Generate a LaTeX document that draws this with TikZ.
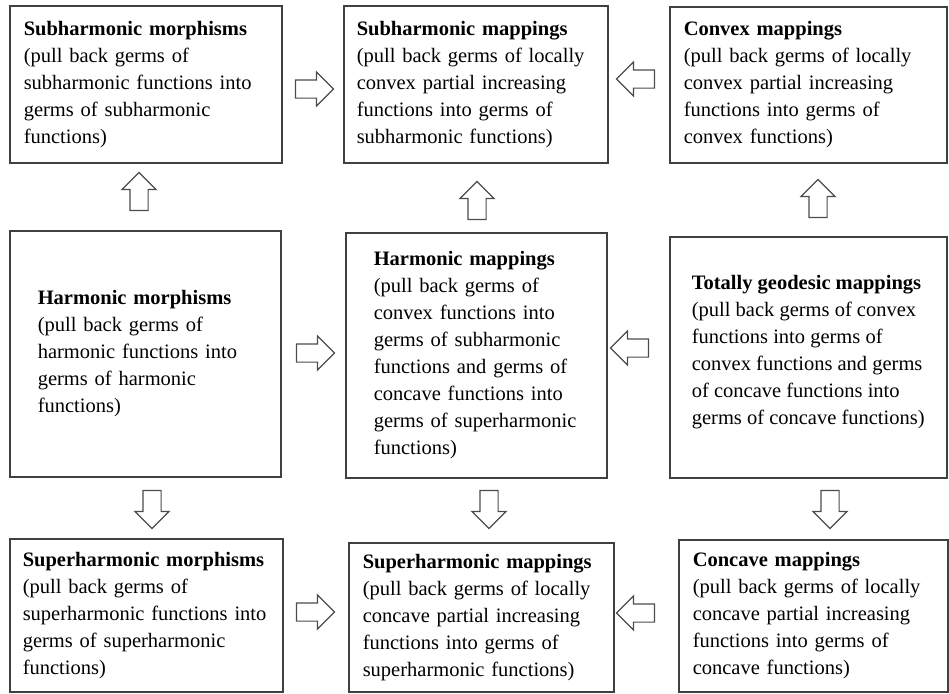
\documentclass[tikz,border=0pt]{standalone}
\usepackage{fontspec}
\setmainfont{Liberation Serif}
\usetikzlibrary{shapes.arrows}

\begin{document}
\begin{tikzpicture}[x=0.5pt,y=-0.5pt]
\tikzset{boite/.style={draw=black!75, line width=0.75pt, anchor=north west, align=left, inner ysep=0pt, font=\fontsize{10.25}{13.5}\selectfont},
fleche/.style={draw=black!70, line width=0.6pt, single arrow, single arrow head extend=4pt, inner sep=4.25pt, minimum height=19pt}}
\useasboundingbox (0,0) rectangle (949,693);
\clip (0,0) rectangle (949,693);
% top row
\node[boite, text width=122pt, inner xsep=7pt, minimum height=78.5pt] (B1) at (9,5) {\textbf{Subharmonic morphisms}\\(pull back germs of\\subharmonic functions into\\germs of subharmonic\\functions)};
\node[boite, text width=119pt, inner xsep=6.5pt, minimum height=78.5pt] (B2) at (343,5) {\textbf{Subharmonic mappings}\\(pull back germs of locally\\convex partial increasing\\functions into germs of\\subharmonic functions)};
\node[boite, text width=124.5pt, inner xsep=7pt, minimum height=78pt] (B3) at (669,6) {\textbf{Convex mappings}\\(pull back germs of locally\\convex partial increasing\\functions into germs of\\convex functions)};
% middle row
\node[boite, text width=107.5pt, inner xsep=14pt, minimum height=123pt] (B4) at (9,230) {\textbf{Harmonic morphisms}\\(pull back germs of\\harmonic functions into\\germs of harmonic\\functions)};
\node[boite, text width=102.5pt, inner xsep=14pt, minimum height=122.5pt] (B5) at (345,232) {\textbf{Harmonic mappings}\\(pull back germs of\\convex functions into\\germs of subharmonic\\functions and germs of\\concave functions into\\germs of superharmonic\\functions)};
\node[boite, inner xsep=0pt, minimum width=138.5pt, minimum height=120.5pt] (B6) at (669,236) {\textbf{Totally geodesic mappings}\\(pull back germs of convex\\functions into germs of\\convex functions and germs\\of concave functions into\\germs of concave functions)\\[-6.5pt]\mbox{}};
% bottom row
\node[boite, text width=123.5pt, inner xsep=6.5pt, minimum height=76.5pt] (B7) at (9,538) {\textbf{Superharmonic morphisms}\\(pull back germs of\\superharmonic functions into\\germs of superharmonic\\functions)};
\node[boite, text width=118.5pt, inner xsep=7pt, minimum height=74.5pt] (B8) at (348,542) {\textbf{Superharmonic mappings}\\(pull back germs of locally\\concave partial increasing\\functions into germs of\\superharmonic functions)};
\node[boite, text width=120.5pt, inner xsep=7pt, minimum height=76pt] (B9) at (678,539) {\textbf{Concave mappings}\\(pull back germs of locally\\concave partial increasing\\functions into germs of\\concave functions)};
% arrows
\node[fleche] (A12) at (310,89) {};
\node[fleche, rotate=180] (A32) at (640,79) {};
\node[fleche, rotate=90] (A41) at (139,196) {};
\node[fleche, rotate=90] (A52) at (477,205) {};
\node[fleche, rotate=90] (A63) at (818,203) {};
\node[fleche] (A45) at (311,353) {};
\node[fleche, rotate=180] (A65) at (634,348) {};
\node[fleche, rotate=-90] (A47) at (152,505) {};
\node[fleche, rotate=-90] (A58) at (489,505) {};
\node[fleche, rotate=-90] (A69) at (830,505) {};
\node[fleche] (A78) at (311,612) {};
\node[fleche, rotate=180] (A98) at (640,613) {};
\end{tikzpicture}
\end{document}
